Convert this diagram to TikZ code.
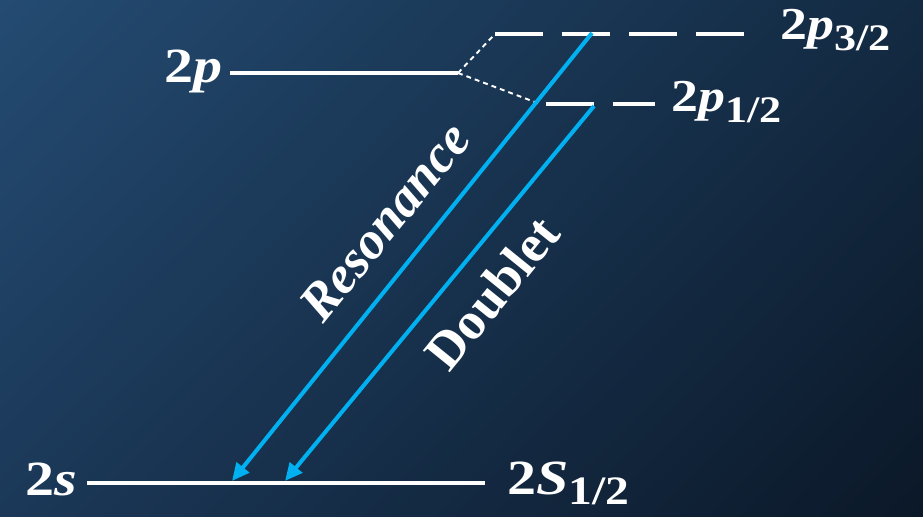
\documentclass[tikz,border=0pt]{standalone}
\usepackage{fontspec}
\setmainfont{Liberation Serif}
\newfontfamily\lvlfont[FakeStretch=1.18]{Liberation Serif}
\usepackage{xcolor}
\usetikzlibrary{arrows.meta, positioning, shadings}

\definecolor{bgul}{HTML}{244B72}
\definecolor{bgur}{HTML}{132A42}
\definecolor{bgll}{HTML}{1B3858}
\definecolor{bglr}{HTML}{0B1828}
\definecolor{lineblue}{HTML}{00B0F0}

\newcommand{\lsub}[1]{\raisebox{-0.22em}{\scalebox{0.82}{#1}}}

\begin{document}
\begin{tikzpicture}[
  x=0.02cm, y=-0.02cm,
  lvl/.style={draw=white, line width=2.8pt},
  sublvl/.style={lvl, dash pattern=on 27.3pt off 10.8pt},
  split/.style={draw=white, line width=1.1pt, dash pattern=on 2.8pt off 2.3pt},
  trans/.style={-{Triangle[length=10pt, width=9pt]}, draw=lineblue,
                line width=2.3pt},
  lbl/.style={text=white, inner sep=0pt,
              font=\lvlfont\fontsize{28}{31}\selectfont\bfseries},
  sublbl/.style={lbl, font=\lvlfont\fontsize{26}{29}\selectfont\bfseries},
  tag/.style={text=white, inner sep=0pt, rotate=51,
              font=\fontsize{30}{32}\selectfont\bfseries},
]

% --- Background ---
\shade[upper left=bgul, upper right=bgur, lower left=bgll, lower right=bglr]
  (0,0) rectangle (923,517);

% --- Level end points ---
\coordinate (p-l)   at (230, 73);
\coordinate (p-r)   at (458, 73);
\coordinate (p32-l) at (495, 34);
\coordinate (p32-r) at (745, 34);
\coordinate (p12-j) at (540,104);
\coordinate (p12-l) at (546,104);
\coordinate (p12-r) at (655,104);
\coordinate (s-l)   at ( 87,483);
\coordinate (s-r)   at (485,483);

% --- Levels ---
\draw[lvl] (p-l) -- (p-r);
\draw[sublvl] (p32-l) -- (p32-r);
\draw[sublvl] (p12-l) -- (p12-r);
\draw[lvl] (s-l) -- (s-r);

% --- Fine-structure splitting ---
\draw[split] (p-r) -- (p32-l);
\draw[split] (p-r) -- (p12-j);

% --- Transitions ---
\coordinate (res-top) at (592, 33);
\coordinate (res-bot) at (232,481);
\coordinate (dbl-top) at (594,106);
\coordinate (dbl-bot) at (285,481);
\draw[trans] (res-top) -- (res-bot);
\draw[trans] (dbl-top) -- (dbl-bot);

% --- Labels ---
\node[lbl, anchor=base east] (l2p) at (223, 83) {2\textit{p}};
\node[sublbl, anchor=base west] (l2p32) at (780, 40)
  {2\textit{p}\lsub{3/2}};
\node[sublbl, anchor=base west] (l2p12) at (671,112)
  {2\textit{p}\lsub{1/2}};
\node[lbl, anchor=base east] (l2s) at (77,495) {2\textit{s}};
\node[lbl, anchor=base west] (l2s12) at (507,494)
  {2\textit{S}\lsub{1/2}};

\node[tag] (tres) at (385,222) {\textit{Resonance}};
\node[tag] (tdbl) at (492,293) {Doublet};

\end{tikzpicture}
\end{document}
